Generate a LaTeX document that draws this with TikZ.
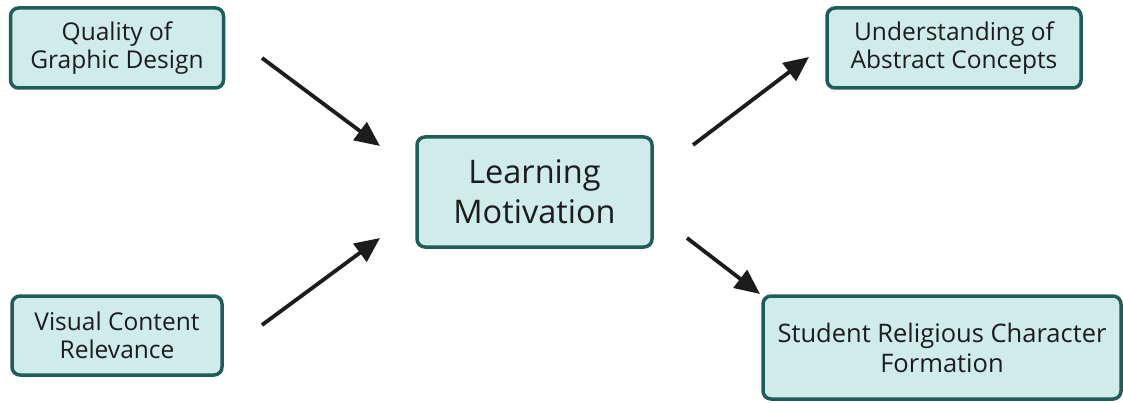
\documentclass[tikz,border=0pt]{standalone}
\usepackage{fontspec}
\setmainfont{Open Sans}
\usetikzlibrary{arrows.meta}
\definecolor{boxfill}{HTML}{CFEBEA}
\definecolor{boxline}{HTML}{1F5D5C}
\definecolor{ink}{HTML}{1C1C1C}
\tikzset{
  factor/.style={draw=boxline, line width=3.5pt, fill=boxfill, rounded corners=8pt,
    align=center, text=ink, inner sep=0pt, font=\fontsize{24.5}{28.5}\selectfont},
  hub/.style={factor, font=\fontsize{32.5}{40}\selectfont},
  flow/.style={line width=3.8pt, -{Triangle[length=25pt,width=22pt]}, ink}
}
\begin{document}
\begin{tikzpicture}[x=1pt, y=-1pt]
  \useasboundingbox (0,0) rectangle (1123,403);
  \fill[white] (0,0) rectangle (1123,403);

  % input factors
  \node[factor, minimum width=213pt, minimum height=80pt] (design) at (117,48)
    {Quality of\\Graphic Design};
  \node[factor, minimum width=210pt, minimum height=79pt] (visual) at (117,335.5)
    {Visual Content\\Relevance};

  % mediator
  \node[hub, minimum width=235pt, minimum height=110pt] (motiv) at (534.5,192)
    {Learning\\Motivation};

  % outcomes
  \node[factor, minimum width=254pt, minimum height=80pt] (abstract) at (954,48)
    {Understanding of\\Abstract Concepts};
  \node[factor, minimum width=358pt, minimum height=103pt,
        font=\fontsize{25.5}{30}\selectfont] (character) at (942,347.5)
    {Student Religious Character\\Formation};

  % arrow ends
  \coordinate (d1) at (262,58);   \coordinate (d2) at (380,146);
  \coordinate (v1) at (262,325);  \coordinate (v2) at (380,238);
  \coordinate (a1) at (693,145);  \coordinate (a2) at (809,57);
  \coordinate (c1) at (687,238);  \coordinate (c2) at (760,294);

  \draw[flow] (d1) -- (d2);
  \draw[flow] (v1) -- (v2);
  \draw[flow] (a1) -- (a2);
  \draw[flow] (c1) -- (c2);
\end{tikzpicture}
\end{document}
